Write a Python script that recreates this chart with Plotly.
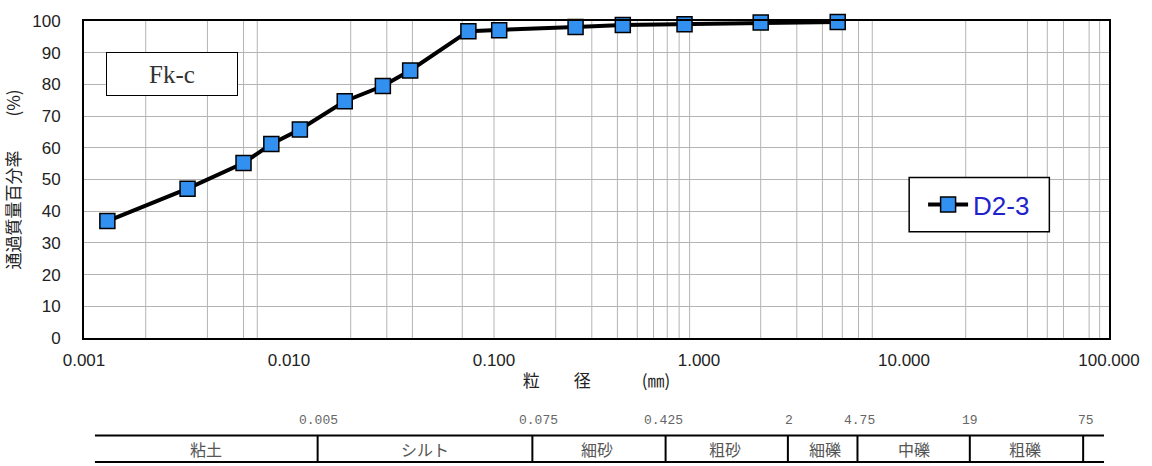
import plotly.graph_objects as go

# ---------------- data ----------------
particle_size_mm = [0.0013, 0.0032, 0.0060, 0.0082, 0.0113, 0.0187, 0.0287, 0.0390,
                    0.075, 0.106, 0.25, 0.425, 0.85, 2.0, 4.75]
percent_passing = [36.9, 47.1, 55.2, 61.2, 65.8, 74.7, 79.5, 84.4,
                   96.8, 97.1, 98.1, 98.7, 99.0, 99.5, 99.7]
series_name = "D2-3"
sample_label = "Fk-c"

x_tick_values = [0.001, 0.01, 0.1, 1, 10, 100]
x_tick_labels = ["0.001", "0.010", "0.100", "1.000", "10.000", "100.000"]
y_tick_values = list(range(0, 101, 10))
x_grid_values = [0.002, 0.004, 0.006, 0.007,
                 0.02, 0.03, 0.04, 0.07,
                 0.1, 0.2, 0.3, 0.4, 0.5, 0.6, 0.7, 0.8, 0.9,
                 2, 3, 4, 5, 6, 7,
                 20, 40, 50, 60, 80, 90]

boundary_labels = ["0.005", "0.075", "0.425", "2", "4.75", "19", "75"]
class_labels = ["粘土", "シルト", "細砂", "粗砂", "細礫", "中礫", "粗礫"]

# ---------------- layout geometry (pixels) ----------------
W, H = 1152, 466
ML, MR, MT, MB = 82, 39, 16, 128
PW, PH = W - ML - MR, H - MT - MB


def px(x):
    return (x - ML) / PW


def py(y):
    return (H - MB - y) / PH


boundary_px = [317, 533, 667, 790, 860, 973, 1087]
boundary_label_px = [318, 539, 665, 791, 862, 973, 1090]
class_label_px = [205, 425, 598, 727, 827, 917, 1029]
table_left, table_right, table_top, table_bottom = 93, 1108, 437, 464
boundary_label_y, class_label_y = 422, 451

fig = go.Figure()
fig.add_trace(go.Scatter(
    x=particle_size_mm, y=percent_passing, name=series_name,
    mode="lines+markers",
    line=dict(color="black", width=4),
    marker=dict(symbol="square", size=15, color="#3290f0",
                line=dict(color="black", width=1.5)),
    cliponaxis=False,
))

shapes = []
# vertical grid lines
for gx in x_grid_values:
    shapes.append(dict(type="line", xref="x", yref="paper", x0=gx, x1=gx, y0=0, y1=1,
                       line=dict(color="#b4b4b4", width=1), layer="below"))
# legend box
shapes.append(dict(type="rect", xref="paper", yref="paper",
                   x0=px(912), x1=px(1053), y0=py(230), y1=py(175),
                   line=dict(color="black", width=1.5), fillcolor="white", layer="above"))
# table
for yy in (table_top, table_bottom):
    shapes.append(dict(type="line", xref="paper", yref="paper",
                       x0=px(table_left), x1=px(table_right), y0=py(yy), y1=py(yy),
                       line=dict(color="black", width=2)))
for bx in boundary_px:
    shapes.append(dict(type="line", xref="paper", yref="paper",
                       x0=px(bx), x1=px(bx), y0=py(table_top), y1=py(table_bottom),
                       line=dict(color="black", width=2)))

annotations = [dict(
    text=sample_label, xref="paper", yref="paper", x=px(171), y=py(70),
    xanchor="center", yanchor="middle", showarrow=False,
    font=dict(family="Liberation Serif", size=25, color="#333333"),
    bordercolor="black", borderwidth=1, bgcolor="white", width=128, height=40,
)]
for lab, lx in zip(boundary_labels, boundary_label_px):
    annotations.append(dict(text=lab, xref="paper", yref="paper", x=px(lx), y=py(boundary_label_y),
                            xanchor="center", yanchor="middle", showarrow=False,
                            font=dict(family="Liberation Mono", size=13, color="#666666")))
for lab, lx in zip(class_labels, class_label_px):
    annotations.append(dict(text=lab, xref="paper", yref="paper", x=px(lx), y=py(class_label_y),
                            xanchor="center", yanchor="middle", showarrow=False,
                            font=dict(family="Noto Sans CJK JP", size=16, color="#555555")))

fig.update_layout(
    width=W, height=H,
    margin=dict(l=ML, r=MR, t=MT, b=MB),
    paper_bgcolor="white", plot_bgcolor="white",
    font=dict(family="Liberation Sans", color="#222222"),
    shapes=shapes, annotations=annotations,
    showlegend=True,
    legend=dict(x=px(926), y=py(202.5), xanchor="left", yanchor="middle",
                bgcolor="rgba(0,0,0,0)", borderwidth=0,
                font=dict(family="Liberation Sans", size=26, color="#2222cc"),
                itemwidth=40),
    xaxis=dict(type="log", range=[-3, 2], tickvals=x_tick_values, ticktext=x_tick_labels,
               showgrid=False, zeroline=False,
               showline=True, mirror=True, linecolor="black", linewidth=2,
               ticks="", ticklabelstandoff=6,
               tickfont=dict(family="Liberation Sans", size=17, color="#222222"),
               title=dict(text="粒　　径　　　(㎜)", standoff=6,
                          font=dict(family="Noto Sans CJK JP", size=17, color="#222222"))),
    yaxis=dict(range=[0, 100], tickvals=y_tick_values,
               showgrid=True, gridcolor="#b4b4b4", gridwidth=1, zeroline=False,
               showline=True, mirror=True, linecolor="black", linewidth=2,
               ticks="", ticklabelstandoff=18,
               tickfont=dict(family="Liberation Sans", size=17, color="#222222"),
               title=dict(text="通過質量百分率　　(%)", standoff=8,
                          font=dict(family="Noto Sans CJK JP", size=17, color="#222222"))),
)

fig.write_html("out.html",
               config={"displayModeBar": False},
               post_script="document.body.style.margin='0';document.body.style.overflow='hidden';")
